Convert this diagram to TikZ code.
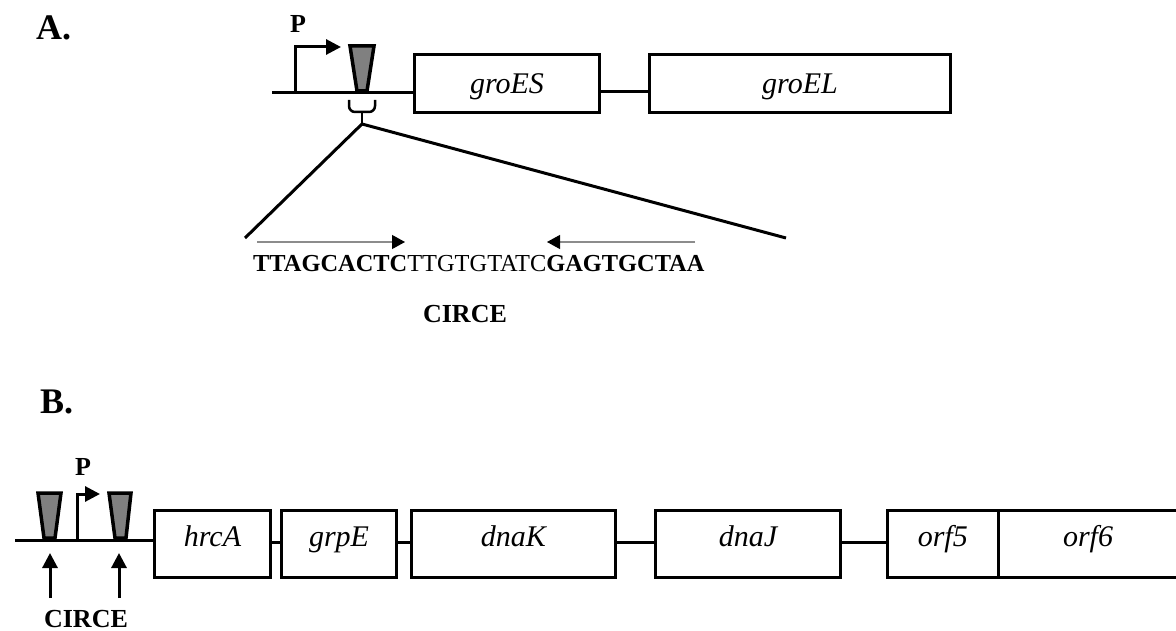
\documentclass[tikz,border=0pt]{standalone}
\usepackage{fontspec}
\setmainfont{Liberation Serif}
\usetikzlibrary{arrows.meta}
\begin{document}
\begin{tikzpicture}[x=1pt,y=-1pt,
  thk/.style={line width=3pt},
  gene/.style={draw, line width=3pt, inner sep=0pt, text height=19.5pt, text depth=0pt,
    font=\fontsize{30}{34}\selectfont\itshape},
  geneA/.style={gene, minimum height=58pt},
  geneB/.style={gene, minimum height=67pt, text depth=15pt},
  site/.style={draw=black, fill=black!50, line width=3.5pt, line join=miter},
  prom/.style={line width=3pt, line join=miter, -{Triangle[length=15pt,width=15pt]}},
  upar/.style={line width=3pt, -{Triangle[length=15pt,width=15pt]}},
  seqar/.style={draw=black!45, line width=1.2pt, -{Triangle[length=13pt,width=14pt,color=black]}},
  lbl/.style={inner sep=0pt, anchor=base, font=\fontsize{26}{30}\selectfont\bfseries},
  big/.style={inner sep=0pt, anchor=base west, font=\fontsize{36}{40}\selectfont\bfseries}
]
\useasboundingbox (0,0) rectangle (1176,631);
\clip (0,0) rectangle (1176,631);

% ---------- Part A ----------
\node[big] (labA) at (36,40) {A.};
\node[lbl] (PA) at (298,33) {P};
\node[geneA, minimum width=185pt] (groES) at (507,83.5) {groES};
\node[geneA, minimum width=301pt] (groEL) at (800,83.5) {groEL};
\coordinate (startA) at (272,93);
\draw[thk] (startA) -- ([yshift=-9.5pt]groES.west);
\draw[thk] ([yshift=-8.5pt]groES.east) -- ([yshift=-8.5pt]groEL.west);
\draw[prom] (295,93) -- (295,47) -- (341,47);
\draw[site] (350,46) -- (374,46) -- (367,91) -- (357,91) -- cycle;
% bracket
\draw[line width=2.5pt] (349,100) -- (349,106) to[out=-90,in=180] (355,112) -- (369,112)
  to[out=0,in=-90] (375,106) -- (375,100);
\coordinate (stem) at (362,124);
\draw[line width=2.5pt] (362,112) -- (stem);
\coordinate (zl) at (245,238);
\coordinate (zr) at (786,238);
\draw[thk] (stem) -- (zl);
\draw[thk] (stem) -- (zr);
\coordinate (a1s) at (257,242); \coordinate (a1e) at (405,242);
\coordinate (a2s) at (695,242); \coordinate (a2e) at (547,242);
\draw[seqar] (a1s) -- (a1e);
\draw[seqar] (a2s) -- (a2e);
\node[inner sep=0pt, anchor=base west, font=\fontsize{24.4}{29}\selectfont] (seq) at (253,272)
  {\textbf{TTAGCACTC}TTGTGTATC\textbf{GAGTGCTAA}};
\node[lbl] (circeA) at (465,322) {CIRCE};

% ---------- Part B ----------
\node[big] (labB) at (40,413) {B.};
\node[lbl] (PB) at (83,475) {P};
\node[geneB, minimum width=116pt] (hrcA) at (212.5,544) {hrcA};
\node[geneB, minimum width=115pt] (grpE) at (339,544) {grpE};
\node[geneB, minimum width=204pt] (dnaK) at (513.5,544) {dnaK};
\node[geneB, minimum width=185pt] (dnaJ) at (748,544) {dnaJ};
\node[geneB, minimum width=110.5pt] (orf5) at (942.75,544) {orf5};
\node[geneB, minimum width=180pt] (orf6) at (1088,544) {orf6};
\coordinate (startB) at (15,540);
\draw[thk] (startB) -- ([yshift=4pt]hrcA.west);
\draw[thk] ([yshift=2pt]hrcA.east) -- ([yshift=2pt]grpE.west);
\draw[thk] ([yshift=2pt]grpE.east) -- ([yshift=2pt]dnaK.west);
\draw[thk] ([yshift=2pt]dnaK.east) -- ([yshift=2pt]dnaJ.west);
\draw[thk] ([yshift=2pt]dnaJ.east) -- ([yshift=2pt]orf5.west);
\draw[site] (38,493) -- (61,493) -- (55,538) -- (44,538) -- cycle;
\draw[site] (109,493) -- (131,493) -- (126,538) -- (115,538) -- cycle;
\draw[prom] (77,540) -- (77,494) -- (100,494);
\coordinate (c1) at (50,598); \coordinate (c1t) at (50,553);
\coordinate (c2) at (119,598); \coordinate (c2t) at (119,553);
\draw[upar] (c1) -- (c1t);
\draw[upar] (c2) -- (c2t);
\node[lbl] (circeB) at (86,627) {CIRCE};
\end{tikzpicture}
\end{document}
